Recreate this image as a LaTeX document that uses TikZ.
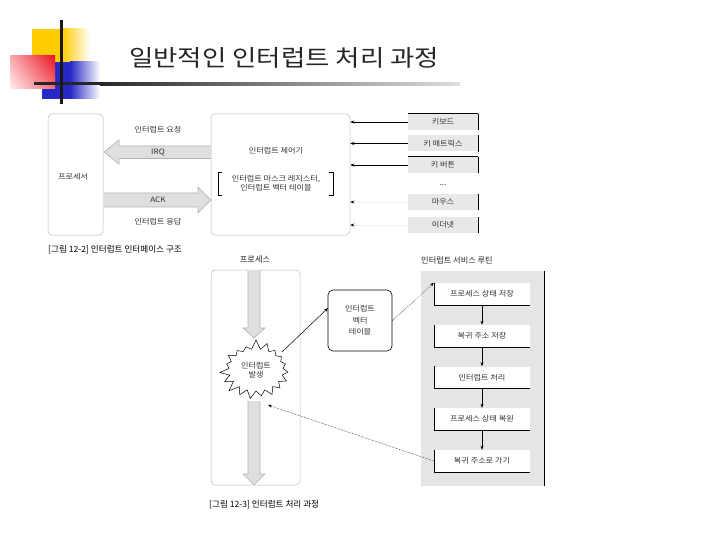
\documentclass[tikz,border=0pt]{standalone}
\usepackage{fontspec}
\newfontfamily\kr{Noto Sans CJK KR}
\newfontfamily\krs[FakeStretch=1.1]{Noto Sans CJK KR}
\newfontfamily\krt[FakeStretch=1.15]{Noto Sans CJK KR}
\usetikzlibrary{arrows.meta,shapes.symbols,calc,shadings}
\definecolor{decoY}{RGB}{255,204,0}
\definecolor{decoB}{RGB}{40,40,200}
\definecolor{redA}{RGB}{235,20,30}
\definecolor{redB}{RGB}{245,110,120}
\definecolor{redC}{RGB}{250,170,175}
\definecolor{redD}{RGB}{255,238,238}
\tikzset{
  txt/.style={font=\krs\fontsize{7.4}{8.8}\selectfont, text=black!80, inner sep=0pt},
  hd/.style={font=\kr\fontsize{8.2}{9}\selectfont, text=black!85, inner sep=0pt},
  captxt/.style={font=\kr\fontsize{8.6}{10}\selectfont, text=black, inner sep=0pt, anchor=west},
  dev/.style={fill=gray!18, minimum width=70pt, minimum height=16pt, inner sep=0pt, txt},
  isr/.style={fill=white, minimum width=96pt, minimum height=22pt, inner sep=0pt, txt},
  blk/.style={fill=gray!25, draw=gray!60, line width=0.6pt},
  framebox/.style={draw=gray!55, line width=0.5pt, rounded corners=4pt},
  arr/.style={-{Stealth[length=4pt,width=3pt]}, line width=0.5pt},
  darr/.style={-{Stealth[length=4pt,width=3pt]}, line width=0.5pt, densely dotted},
}
\begin{document}
\begin{tikzpicture}[x=1pt,y=-1pt]
\useasboundingbox (0,0) rectangle (720,540);
% ---------- title decoration ----------
\fill[decoY] (32,29) rectangle (62,62);
\shade[left color=decoY, right color=white] (62,29) rectangle (90,62);
\fill[decoB] (42,62) rectangle (70,99);
\shade[left color=decoB, right color=white] (70,62) rectangle (100,99);
\shade[lower left=redD, upper right=redA, lower right=redB, upper left=redC] (10,56) rectangle (55,89);
\fill[black!85] (34,82.5) rectangle (100,85.5);
\shade[left color=black!85, right color=gray!25] (100,82.5) rectangle (460,85.5);
\fill[black!90] (60,20) rectangle (63,104);
\node[anchor=west, font=\krt\fontsize{23}{27}\selectfont, text=black!85, inner sep=0pt] (title) at (129,58) {일반적인 인터럽트 처리 과정};
% ---------- figure 12-2 ----------
\node[framebox, minimum width=55pt, minimum height=121pt, inner sep=0pt] (cpu) at (75.5,174.5) {};
\node[txt] (cpul) at (73,177) {프로세서};
\node[framebox, minimum width=139pt, minimum height=121pt, inner sep=0pt] (ctrl) at (280.5,174.5) {};
\node[txt] (ctrll) at (276,151) {인터럽트 제어기};
\node[txt, align=center] (regs) at (276,183.5) {인터럽트 마스크 레지스터,\\인터럽트 벡터 테이블};
\draw[line width=0.8pt] (222,172) -- (218,172) -- (218,195) -- (222,195);
\draw[line width=0.8pt] (329,172) -- (333,172) -- (333,195) -- (329,195);
% IRQ block arrow
\path[blk] (211,146) -- (119,146) -- (119,140) -- (104,152) -- (119,164) -- (119,158.5) -- (211,158.5);
\node[txt] (irq) at (158,152.5) {IRQ};
\node[txt] (req) at (158,130) {인터럽트 요청};
% ACK block arrow
\path[blk] (104,193) -- (198,193) -- (198,187) -- (211,200) -- (198,213) -- (198,207) -- (104,207);
\node[txt] (ack) at (158,200) {ACK};
\node[txt] (resp) at (158,222) {인터럽트 응답};
% devices
\node[dev] (d1) at (443,122) {키보드};
\node[dev] (d2) at (443,143.5) {키 매트릭스};
\node[dev] (d3) at (443,165) {키 버튼};
\node[txt] (dots) at (443,185) {...};
\node[dev] (d4) at (443,202) {마우스};
\node[dev] (d5) at (443,225) {이더넷};
\foreach \d in {d1,d2,d3,d4,d5}{\draw[line width=0.8pt] (\d.north east) -- (\d.south east);}
\draw[line width=0.6pt] (d1.north west) -- (d1.north east);
\draw[line width=0.6pt] (d3.north west) -- (d3.north east);
\foreach \d in {d1,d2,d3}{\draw[arr] (\d.west) -- (\d.west -| ctrl.east);}
\foreach \d in {d4,d5}{\draw[-{Stealth[length=4pt,width=3pt,black]}, gray!12, line width=0.5pt] (\d.west) -- (\d.west -| ctrl.east);}
\node[captxt] (cap1) at (48,250) {[그림 12-2] 인터럽트 인터페이스 구조};
% ---------- figure 12-3 ----------
\node[hd] (proc) at (255,259) {프로세스};
\node[framebox, minimum width=89pt, minimum height=215pt, inner sep=0pt] (pbox) at (255.5,377.5) {};
\path[blk] (248,270.5) -- (248,328) -- (243,328) -- (254,338) -- (265,328) -- (260,328) -- (260,270.5);
\path[blk] (248,401) -- (248,474) -- (243,474) -- (254,485) -- (265,474) -- (260,474) -- (260,401);
\node[starburst, draw=black, fill=white, line width=0.5pt, minimum width=74pt, minimum height=62pt,
      starburst points=19, starburst point height=10pt, random starburst=7, txt, align=center] (star) at (256,370) {인터럽트\\발생};
\node[draw=black, line width=0.6pt, rounded corners=5pt, minimum width=64pt, minimum height=61pt, inner sep=0pt,
      txt, align=center, font=\krs\fontsize{7.4}{11.5}\selectfont] (vt) at (360,320.5) {인터럽트\\벡터\\테이블};
\coordinate (s1) at (282,352);
\coordinate (s2) at (268,405);
\coordinate (vtin) at (328,308);
\draw[arr] (s1) -- (vtin);
% ISR
\node[hd] (isrh) at (457,260) {인터럽트 서비스 루틴};
\fill[gray!20] (421,271) rectangle (544,486);
\draw[line width=0.8pt] (544,271) -- (544,486);
\node[isr] (b1) at (482,294) {프로세스 상태 저장};
\node[isr] (b2) at (482,336) {복귀 주소 저장};
\node[isr] (b3) at (482,377.5) {인터럽트 처리};
\node[isr] (b4) at (482,419) {프로세스 상태 복원};
\node[isr] (b5) at (482,461) {복귀 주소로 가기};
\foreach \b in {b1,b2,b3,b4,b5}{\draw[line width=0.5pt] (\b.north west) -- (\b.south west) -- (\b.south east);}
\draw[arr] (b1) -- (b2);
\draw[arr] (b2) -- (b3);
\draw[arr] (b3) -- (b4);
\draw[arr] (b4) -- (b5);
\draw[darr] (vt.east) -- (b1.north west);
\draw[darr] (b5.west) -- (s2);
\node[captxt] (cap2) at (209,505) {[그림 12-3] 인터럽트 처리 과정};
\end{tikzpicture}
\end{document}
